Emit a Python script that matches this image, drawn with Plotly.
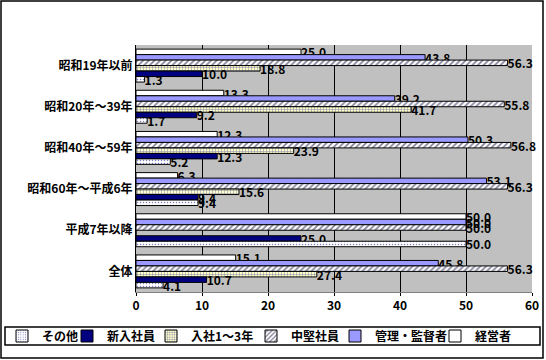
import plotly.graph_objects as go

categories = ["昭和19年以前", "昭和20年～39年", "昭和40年～59年", "昭和60年～平成6年", "平成7年以降", "全体"]
series_names = ["経営者", "管理・監督者", "中堅社員", "入社1～3年", "新入社員", "その他"]
keieisha = [25.0, 13.3, 12.3, 6.3, 50.0, 15.1]
kanri = [43.8, 39.2, 50.3, 53.1, 50.0, 45.8]
chuken = [56.3, 55.8, 56.8, 56.3, 50.0, 56.3]
nyusha13 = [18.8, 41.7, 23.9, 15.6, 0.0, 27.4]
shinnyu = [10.0, 9.2, 12.3, 9.4, 25.0, 10.7]
sonota = [1.3, 1.7, 5.2, 9.4, 50.0, 4.1]
x_ticks = [0, 10, 20, 30, 40, 50, 60]

values = [keieisha, kanri, chuken, nyusha13, shinnyu, sonota]
styles = [
    dict(color="white", pattern=dict(shape="")),
    dict(color="#9999FF", pattern=dict(shape="")),
    dict(color="white", pattern=dict(shape="/", fgcolor="#000030", bgcolor="white", size=4, solidity=0.4)),
    dict(color="#FFFFCC", pattern=dict(shape="+", fgcolor="#000080", bgcolor="#FFFFCC", size=3, solidity=0.3)),
    dict(color="#000080", pattern=dict(shape="")),
    dict(color="white", pattern=dict(shape=".", fgcolor="#000080", bgcolor="white", size=3, solidity=0.2)),
]
# legend box left x (pixels) per series
legend_x_px = [435, 335, 251, 151, 67, 2]
legend_ids = ["legend6", "legend5", "legend4", "legend3", "legend2", "legend"]

FONT = "Noto Sans CJK JP"
W, H = 546, 360
ML, MR, MT, MB = 136, 14, 45, 68
PW, PH = W - ML - MR, H - MT - MB

fig = go.Figure()
for name, vals, st, lid in zip(series_names, values, styles, legend_ids):
    fig.add_trace(go.Bar(
        y=categories, x=vals, name=name, orientation="h",
        marker=dict(color=st["color"], pattern=st["pattern"], line=dict(color="black", width=1)),
        text=[f"{v:.1f}" if v > 0 else "" for v in vals],
        textposition="outside", constraintext="none", cliponaxis=False,
        textfont=dict(family=FONT, size=12, color="black", weight="bold"),
        legend=lid,
    ))

def px_x(p):
    return (p - ML) / PW

def px_y(p):
    return (H - MB - p) / PH

# outer frame and legend frame
fig.add_shape(type="rect", xref="paper", yref="paper",
              x0=px_x(1), x1=px_x(543), y0=px_y(358), y1=px_y(1),
              line=dict(color="black", width=1.5), fillcolor="rgba(0,0,0,0)", layer="below")
fig.add_shape(type="rect", xref="paper", yref="paper",
              x0=px_x(5), x1=px_x(540), y0=px_y(345), y1=px_y(327),
              line=dict(color="black", width=1.5), fillcolor="rgba(0,0,0,0)", layer="below")

legend_common = dict(orientation="h", xref="container", yref="container",
                     xanchor="left", yanchor="middle", y=(H - 336) / H,
                     bgcolor="rgba(0,0,0,0)", borderwidth=0,
                     font=dict(family=FONT, size=12, color="black", weight="bold"),
                     itemwidth=30)
layout_legends = {}
for lid, lx in zip(legend_ids, legend_x_px):
    layout_legends[lid] = dict(legend_common, x=lx / W)

fig.update_layout(
    width=W, height=H,
    margin=dict(l=ML, r=MR, t=MT, b=MB, autoexpand=False),
    paper_bgcolor="white", plot_bgcolor="#C0C0C0",
    barmode="group", bargap=0.2, bargroupgap=0,
    font=dict(family=FONT, size=12, color="black"),
    xaxis=dict(range=[0, 60], tickvals=x_ticks, showgrid=True, gridcolor="black", gridwidth=1,
               zeroline=False, showline=True, linecolor="#808080", linewidth=1,
               ticks="outside", ticklen=3, tickcolor="black",
               tickfont=dict(family=FONT, size=12, color="black", weight="bold")),
    yaxis=dict(autorange="reversed", showline=True, linecolor="black", linewidth=1,
               ticks="", automargin=False,
               tickfont=dict(family=FONT, size=12, color="black", weight="bold")),
    showlegend=True,
    **layout_legends,
)

fig.write_html("out.html", config={"displayModeBar": False},
               post_script="document.body.style.margin='0px';")
